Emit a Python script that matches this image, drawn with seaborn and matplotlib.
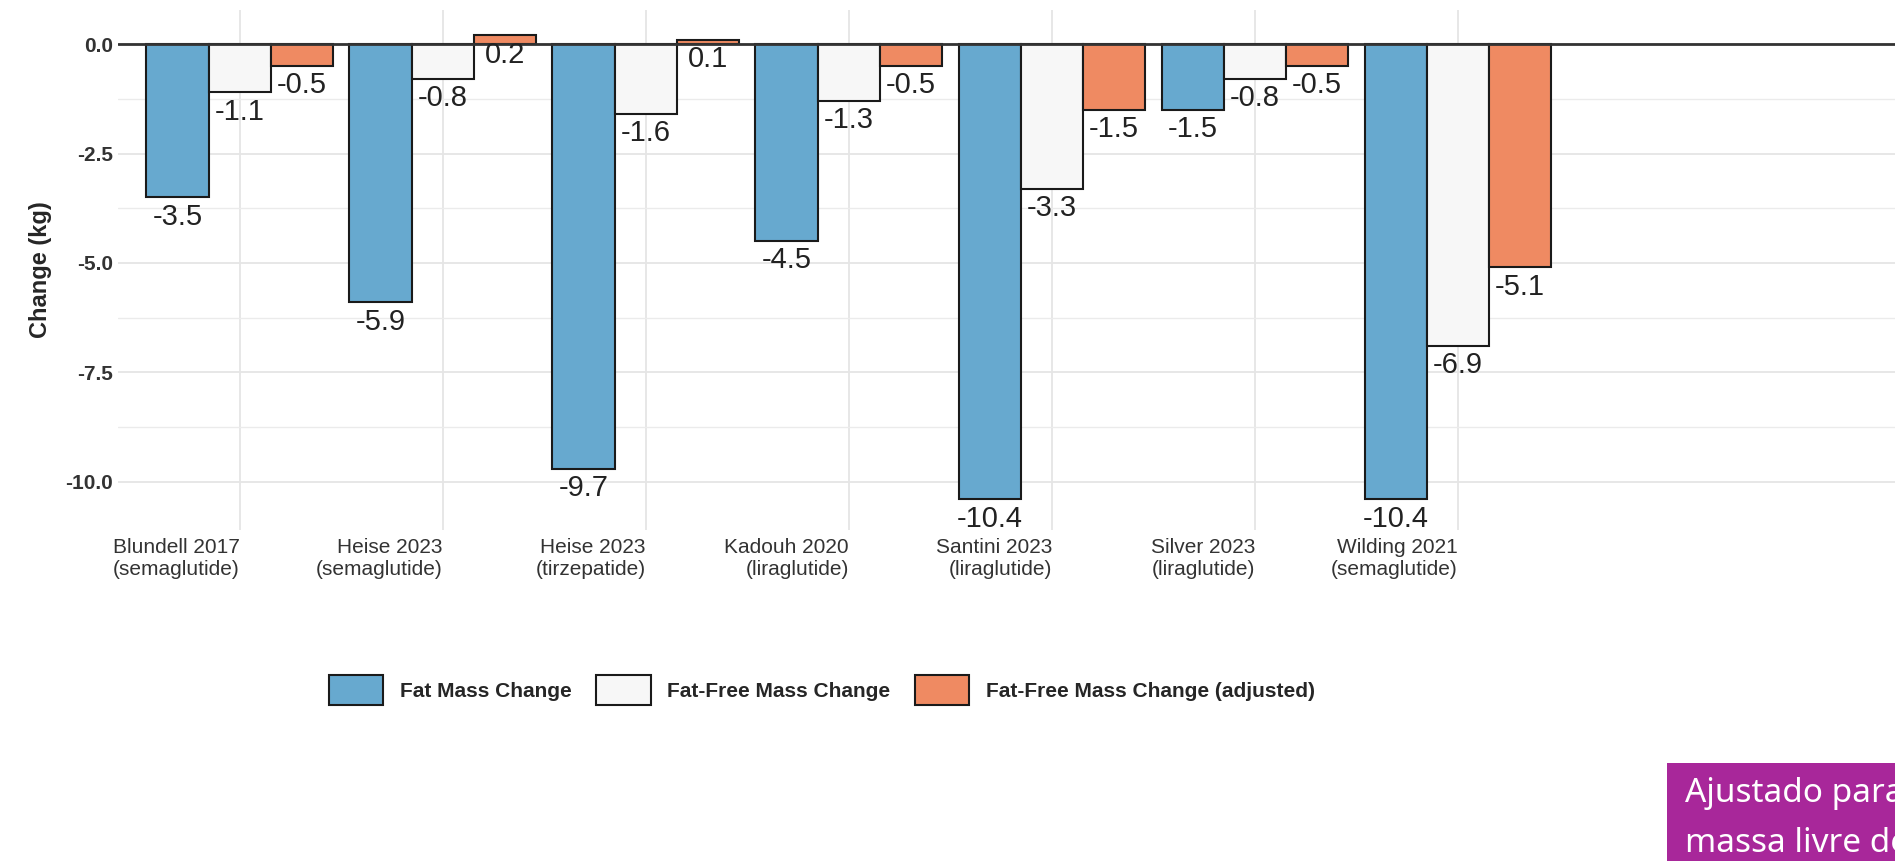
import matplotlib
matplotlib.use("Agg")
import matplotlib.pyplot as plt
import seaborn as sns
import pandas as pd
from matplotlib.patches import Rectangle

studies = ["Blundell 2017\n(semaglutide)", "Heise 2023\n(semaglutide)", "Heise 2023\n(tirzepatide)",
           "Kadouh 2020\n(liraglutide)", "Santini 2023\n(liraglutide)", "Silver 2023\n(liraglutide)",
           "Wilding 2021\n(semaglutide)"]
series = ["Fat Mass Change", "Fat-Free Mass Change", "Fat-Free Mass Change (adjusted)"]
fat = [-3.5, -5.9, -9.7, -4.5, -10.4, -1.5, -10.4]
ffm = [-1.1, -0.8, -1.6, -1.3, -3.3, -0.8, -6.9]
ffm_adj = [-0.5, 0.2, 0.1, -0.5, -1.5, -0.5, -5.1]
colors = ["#67A9CF", "#F7F7F7", "#EF8A62"]

rows = []
for s, vals in zip(series, [fat, ffm, ffm_adj]):
    for st, v in zip(studies, vals):
        rows.append({"study": st, "series": s, "value": v})
df = pd.DataFrame(rows)

sns.set_theme(style="whitegrid")
plt.rcParams['font.family'] = ['Liberation Sans', 'DejaVu Sans']
fig = plt.figure(figsize=(18.95, 8.61), dpi=100)
ax = fig.add_axes([118/1895, 1-530/861, 1-118/1895, (530-10)/861])
sns.barplot(data=df, x="study", y="value", hue="series", palette=colors, order=studies, saturation=1,
            hue_order=series, edgecolor="#1a1a1a", linewidth=1.5, width=0.92, ax=ax, legend=True, zorder=3)
ax.axhline(0, color="#333333", lw=2, zorder=4)
for cont in ax.containers:
    for bar in cont:
        v = bar.get_height()
        x = bar.get_x() + bar.get_width() / 2
        ax.text(x, v - 0.12, f"{v:.1f}", ha="center", va="top", fontsize=21, color="#222222", zorder=5)
ax.set_xlim(-0.6, (1895 - 240) / 203)
ax.set_ylim(-11.1, 0.78)
ax.set_yticks([0, -2.5, -5, -7.5, -10])
ax.set_yticklabels(["0.0", "-2.5", "-5.0", "-7.5", "-10.0"], fontweight="bold", fontsize=15, color="#333333")
ax.set_yticks([-1.25, -3.75, -6.25, -8.75], minor=True)
ax.grid(which="minor", axis="y", color="#EBEBEB", lw=1)
ax.grid(which="major", color="#E5E5E5", lw=1.3)
ax.set_xticks(range(len(studies)))
ax.set_xticklabels(studies, fontsize=15, color="#333333", ha="right")
ax.tick_params(axis="x", pad=6, length=0)
ax.tick_params(axis="y", length=0)
ax.set_xlabel("")
ax.set_ylabel("Change (kg)", fontweight="bold", fontsize=17, labelpad=10)
for sp in ax.spines.values():
    sp.set_visible(False)
h, l = ax.get_legend_handles_labels()
ax.get_legend().remove()
leg = fig.legend(h, l, loc="center left", bbox_to_anchor=(310/1895, 1-690/861), ncol=3, frameon=False,
                 prop={"weight": "bold", "size": 15}, handlelength=2.6, handleheight=1.9, columnspacing=1.2)
fig.patches.append(Rectangle((1667/1895, 0), 1, (861-763)/861, transform=fig.transFigure,
                             facecolor="#A8279A", edgecolor="none", zorder=10))
fig.text(1685/1895, 1-793/861, "Ajustado para", color="white", fontsize=24, family="Noto Sans", va="center", zorder=11)
fig.text(1685/1895, 1-843/861, "massa livre de gordura", color="white", fontsize=24, family="Noto Sans", va="center", zorder=11)
fig.savefig("out.png", dpi=100)
